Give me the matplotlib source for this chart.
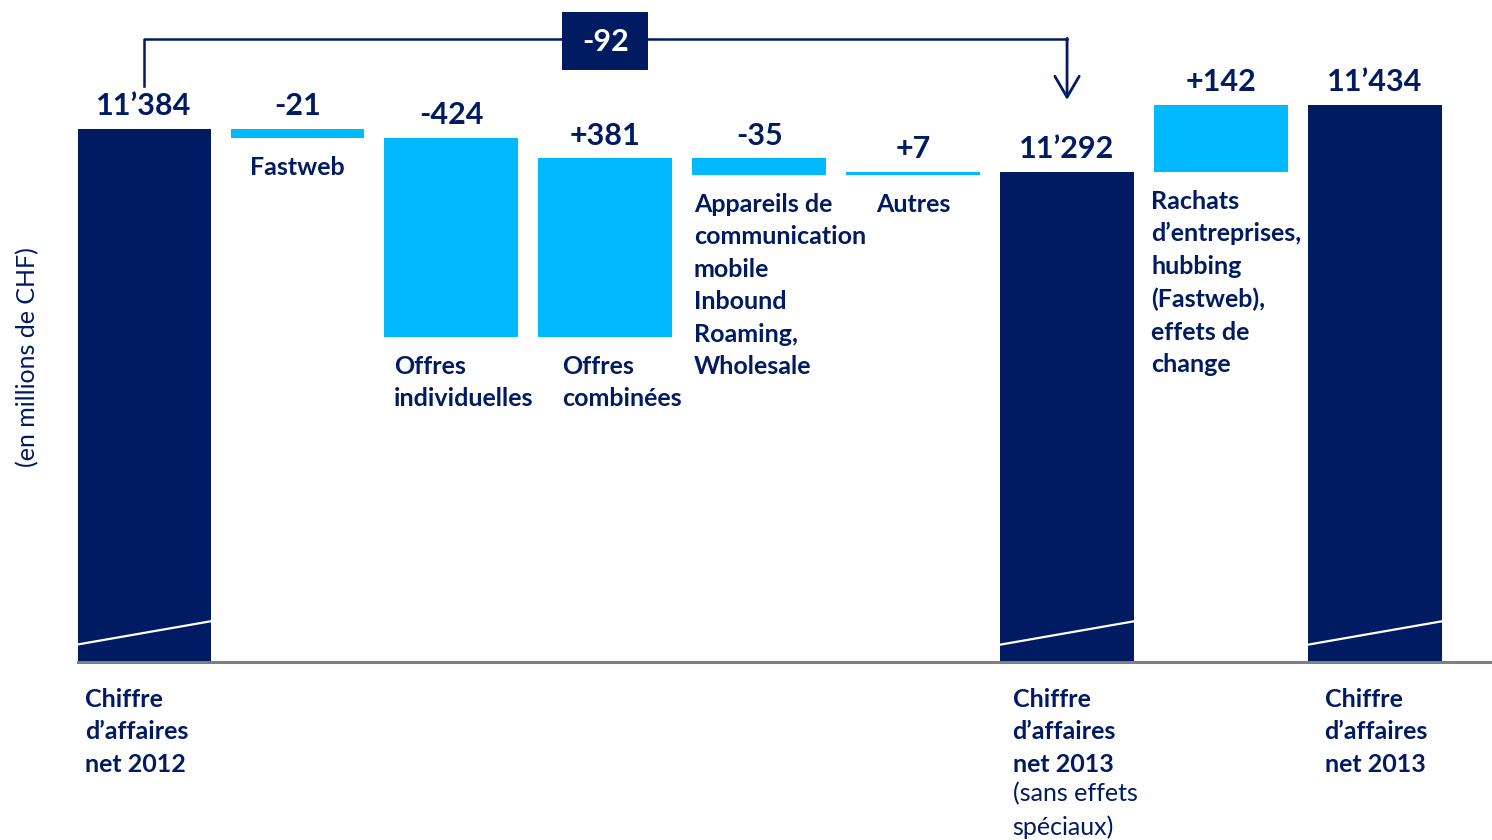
import matplotlib.pyplot as plt
from matplotlib.patches import Rectangle

plt.rcParams['font.family'] = ['Lato', 'DejaVu Sans']

# data (CHF millions)
values = [11384, -21, -424, 381, -35, 7, 11292, 142, 11434]
is_total = [True, False, False, False, False, False, True, False, True]
labels = ['Chiffre\nd’affaires\nnet 2012',
          'Fastweb',
          'Offres\nindividuelles',
          'Offres\ncombinées',
          'Appareils de\ncommunication\nmobile\nInbound\nRoaming,\nWholesale',
          'Autres',
          'Chiffre\nd’affaires\nnet 2013',
          'Rachats\nd’entreprises,\nhubbing\n(Fastweb),\neffets de\nchange',
          'Chiffre\nd’affaires\nnet 2013']
note_2013 = '(sans effets\nspéciaux)'
y_label = '(en millions de CHF)'

# colours / layout
navy = '#001b62'
cyan = '#00b9ff'
axis_min = 10244
label_align = ['left', 'center', 'left', 'left', 'left', 'center', 'left', 'left', 'left']
label_dx = [6, 0, 7, 17, 1, 0, 9, -2, 12]  # points from anchor
lsp = 1.5

# waterfall bottoms / heights
bottoms = []
heights = []
running = 0
for v, tot in zip(values, is_total):
    if tot:
        bottoms.append(axis_min)
        heights.append(v - axis_min)
        running = v
    else:
        bottoms.append(min(running, running + v))
        heights.append(abs(v))
        running = running + v

fig = plt.figure(figsize=(14.92, 8.4), dpi=100)
ax = fig.add_axes([78 / 1492, (840 - 661.5) / 840, (1492 - 78) / 1492, 661.5 / 840])

x = list(range(len(values)))
width = 0.87
colors = [navy if t else cyan for t in is_total]
ax.bar(x, heights, bottom=bottoms, width=width, color=colors, zorder=1)

ax.set_xlim(-0.426, 8.761)
ax.set_ylim(axis_min, 11659)
ax.set_xticks([])
ax.set_yticks([])
for s in ['top', 'left', 'right']:
    ax.spines[s].set_visible(False)
ax.spines['bottom'].set_color('#7f7f7f')
ax.spines['bottom'].set_linewidth(2.2)

# break marks on total bars
for i, tot in enumerate(is_total):
    if tot:
        ax.plot([i - width / 2, i + width / 2], [axis_min + 36, axis_min + 86],
                color='white', lw=1.6, zorder=2)

# value labels and category labels
for i, v in enumerate(values):
    top = bottoms[i] + heights[i]
    txt = f'{v:,}'.replace(',', '’') if is_total[i] else f'{v:+d}'
    ax.annotate(txt, (i, top), xytext=(0, 10), textcoords='offset points',
                ha='center', va='baseline', fontsize=22, fontweight='bold',
                color=navy, annotation_clip=False)

    if label_align[i] == 'center':
        xa = i
    else:
        xa = i - width / 2
    if is_total[i]:
        ya, dy = axis_min, -19
    else:
        ya, dy = bottoms[i], -13
    ax.annotate(labels[i], (xa, ya), xytext=(label_dx[i], dy), textcoords='offset points',
                ha=label_align[i], va='top', fontsize=18, fontweight='bold',
                color=navy, linespacing=lsp, annotation_clip=False)

# note under the 2013 total without special effects
ax.annotate(note_2013, (6 - width / 2, axis_min), xytext=(label_dx[6], -19 - 68),
            textcoords='offset points', ha='left', va='top', fontsize=18,
            color=navy, linespacing=lsp, annotation_clip=False)

# bracket between the two 2012/2013 totals
tr = ax.get_xaxis_transform()
diff = values[6] - values[0]
ax.plot([0, 0, 6], [0.870, 0.941, 0.941], color=navy, lw=1.8, transform=tr, clip_on=False)
ax.annotate('', xy=(6, 0.849), xycoords=tr, xytext=(6, 0.942), textcoords=tr,
            arrowprops=dict(arrowstyle='->,head_length=0.6,head_width=0.35', lw=2,
                            color=navy, shrinkA=0, shrinkB=0, mutation_scale=25))
ax.add_patch(Rectangle((3 - 0.28, 0.894), 0.56, 0.088, transform=tr, fc=navy, ec='none',
                       clip_on=False, zorder=3))
ax.text(3, 0.936, f'{diff:+d}', transform=tr, ha='center', va='center', fontsize=22,
        fontweight='bold', color='white', zorder=4)

fig.text(28 / 1492, 1 - 357 / 840, y_label, rotation=90, ha='center', va='center',
         fontsize=18, color=navy)

fig.savefig('out.png', dpi=100)
